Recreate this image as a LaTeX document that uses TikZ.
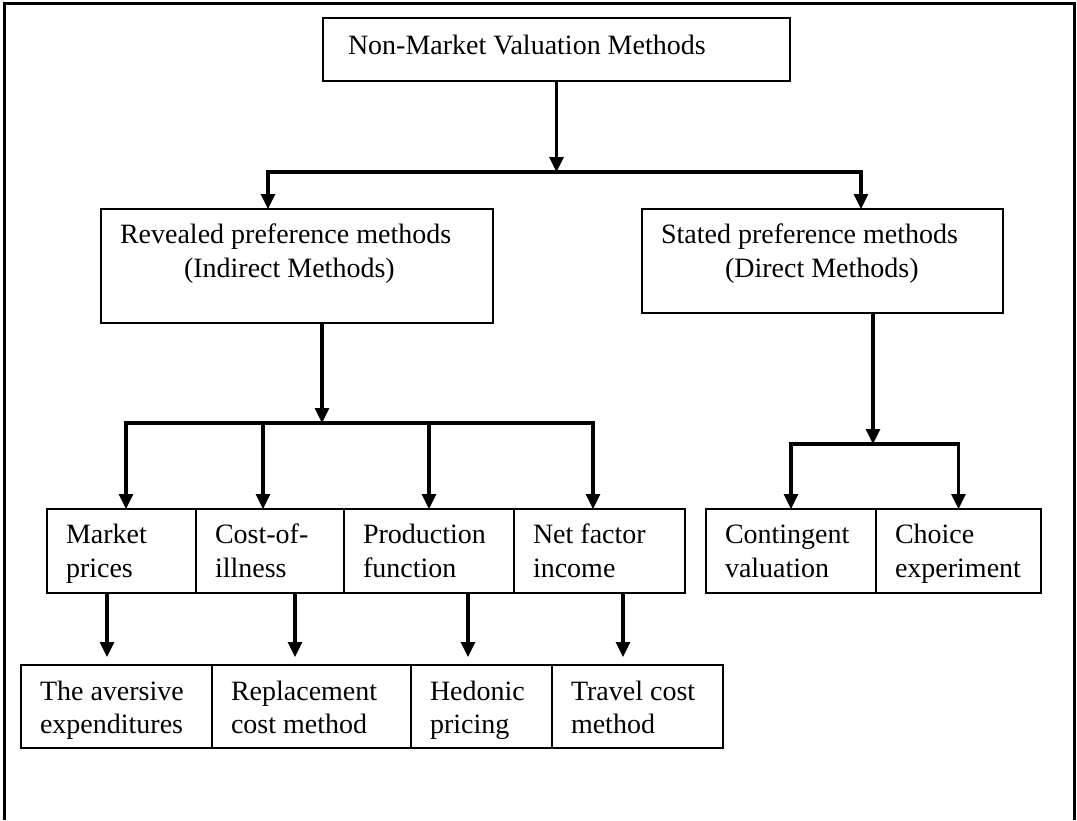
\documentclass[tikz,border=0pt]{standalone}
\usepackage{fontspec}
\setmainfont{Liberation Serif}
\usetikzlibrary{arrows.meta}

\tikzset{
  box/.style={draw, line width=1.3pt, outer sep=0pt, inner ysep=0pt, anchor=north west,
    font=\fontsize{14}{17}\selectfont, align=flush left, inner xsep=9.5pt, text height=10pt},
  cell/.style={box, text width={#1*0.5pt-19pt}, minimum height=42pt, text depth=18pt},
  low/.style={cell=#1, font=\fontsize{14}{16.5}\selectfont, minimum height=41.5pt, text depth=16.5pt},
  arr/.style={line width=1.6pt, -{Triangle[width=7pt,length=7.5pt]}}
}

\begin{document}
\begin{tikzpicture}[x=0.5pt, y=-0.5pt]
		%%%%% START %%%%%
		\useasboundingbox (0,0) rectangle (1077,820);
		\draw[line width=1.5pt] (4,820) -- (4,3) -- (1074,3) -- (1074,820);
		
		% top
		\node[box, inner xsep=12.5pt, text width=208.5pt, minimum height=31.5pt, text depth=5.5pt] (nmv) at (323,18) {Non-Market Valuation Methods};
		
		% two families
		\node[box, text width=177pt, minimum height=57pt, text depth=33pt] (rpm) at (101,209) {Revealed preference methods\\\hspace*{32pt}(Indirect Methods)};
		\node[box, text width=161.5pt, minimum height=52pt, text depth=28pt] (spm) at (642,209) {Stated preference methods\\\hspace*{32pt}(Direct Methods)};
		
		% methods
		\node[cell=149] (mkt) at (47,509) {Market\\prices};
		\node[cell=148] (coi) at (196,509) {Cost-of-\\illness};
		\node[cell=170] (pro) at (344,509) {Production\\function};
		\node[cell=171] (nfi) at (514,509) {Net factor\\income};
		\node[cell=170] (cvm) at (706,509) {Contingent\\valuation};
		\node[cell=165] (cex) at (876,509) {Choice\\experiment};
		
		\node[low=191] (ave) at (21,665) {The aversive\\expenditures};
		\node[low=199] (rep) at (212,665) {Replacement\\cost method};
		\node[low=141] (hed) at (411,665) {Hedonic\\pricing};
		\node[low=171] (tcm) at (552,665) {Travel cost\\method};
		
		% arrows
		\coordinate (splitA) at (557,172);
		\coordinate (colL) at (268,172);
		\coordinate (colR) at (861,172);
		\draw[arr] (nmv.south) -- (nmv.south |- splitA);
		\draw[arr] (splitA) -| (rpm.north -| colL);
		\draw[arr] (splitA) -| (spm.north -| colR);
		
		\coordinate (splitB) at (322,423);
		\draw[arr] (rpm.south -| splitB) -- (splitB);
		\foreach \n/\x in {mkt/126, coi/263, pro/429, nfi/593}{
			\coordinate (c\n) at (\x,423);
			\draw[arr] (splitB) -| (\n.north -| c\n);
		}
		
		\foreach \a/\b/\x in {mkt/ave/107, coi/rep/295, pro/hed/468, nfi/tcm/623}{
			\coordinate (d\a) at (\x,600);
			\draw[arr, shorten >=4pt] (\a.south -| d\a) -- (\b.north -| d\a);
		}
		
		\coordinate (splitC) at (873,444);
		\draw[arr] (spm.south -| splitC) -- (splitC);
		\draw[arr] (splitC) -| (cvm.north);
		\draw[arr] (splitC) -| (cex.north);
		%%%%% END %%%%%
\end{tikzpicture}
\end{document}
